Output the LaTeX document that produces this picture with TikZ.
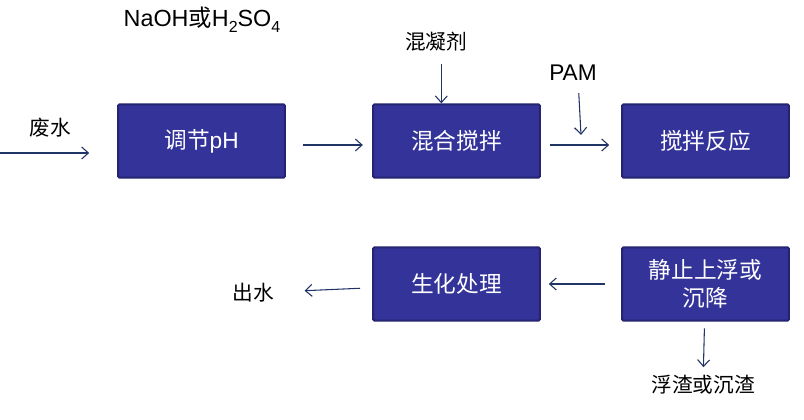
\documentclass[tikz,border=0pt]{standalone}
\usepackage{fontspec}
\setmainfont{Liberation Sans}
\newfontfamily\cjk{Noto Sans CJK SC}
\usepackage{xcolor}
\usetikzlibrary{arrows.meta, positioning}
\definecolor{boxfill}{RGB}{51, 51, 153}
\definecolor{boxline}{RGB}{36, 36, 112}
\definecolor{flow}{RGB}{33, 52, 102}
\newcommand{\subnum}[1]{\raisebox{-0.45ex}{\fontsize{12pt}{12pt}\selectfont #1}}
\tikzset{
    stage/.style={rectangle, rounded corners=1pt, draw=boxline, line width=1.5pt, fill=boxfill, text=white, align=center, font=\fontsize{17pt}{21pt}\selectfont\cjk, minimum width=125pt, minimum height=55pt, inner sep=2pt},
    tag/.style={text=black, font=\fontsize{15.5pt}{18pt}\selectfont\cjk, inner sep=3pt},
    arr/.style={-{Straight Barb[length=5pt, width=9pt]}, line width=0.8pt, flow}
}
\begin{document}
\begin{tikzpicture}[x=0.75pt, y=-0.75pt]
        \useasboundingbox (0,0) rectangle (804,420);

        \node[stage] (ph) at (201.5,141) {调节\fontspec{Liberation Sans}pH};
        \node[stage] (mix) at (456.5,141) {混合搅拌};
        \node[stage] (react) at (705.5,141) {搅拌反应};
        \node[stage] (bio) at (456.5,284) {生化处理};
        \node[stage] (settle) at (705.5,284) {静止上浮或\\沉降};

        \node[tag, font=\fontsize{17.5pt}{20pt}\selectfont] (acid) at (202,20) {NaOH{\cjk 或}H\subnum{2}SO\subnum{4}};
        \node[tag] (coag) at (436,42) {混凝剂};
        \node[tag, font=\fontsize{17pt}{20pt}\selectfont] (pam) at (573,73) {PAM};
        \node[tag] (waste) at (50,128) {废水};
        \node[tag] (outw) at (253,293) {出水};
        \node[tag] (sludge) at (703,385) {浮渣或沉渣};

        \coordinate (in) at (0,153);
        \coordinate (pamend) at (581,135);

        \draw[arr, shorten >=21pt] (in) -- (in -| ph.west);
        \draw[arr, shorten <=13pt, shorten >=7pt] ([yshift=-3pt]ph.east) -- ([yshift=-3pt]mix.west);
        \draw[arr, shorten <=7pt, shorten >=9pt] ([yshift=-3pt]mix.east) -- ([yshift=-3pt]react.west);
        \draw[arr, shorten <=6pt] ([xshift=4pt]coag.south) -- ([xshift=4pt]coag.south |- mix.north);
        \draw[arr, shorten <=6pt] ([xshift=4pt]pam.south) -- (pamend);
        \draw[arr, shorten <=12pt, shorten >=6pt] (settle) -- (bio);
        \draw[arr, shorten <=9pt, shorten >=20pt] (bio) -- (outw);
        \draw[arr, shorten <=5pt, shorten >=3pt] (settle) -- (sludge);
    \end{tikzpicture}
\end{document}
